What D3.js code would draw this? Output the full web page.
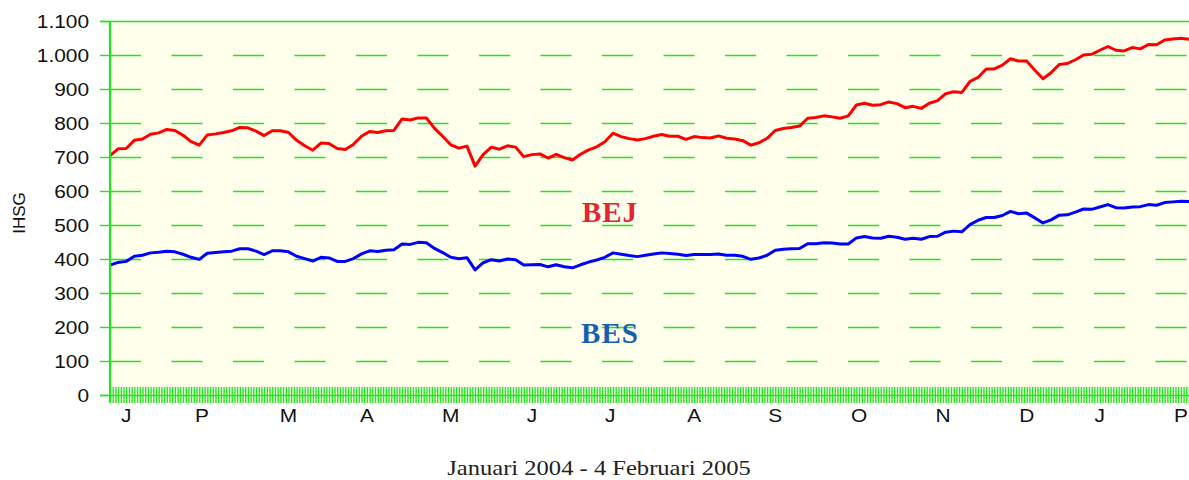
<!DOCTYPE html>
<html>
<head>
<meta charset="utf-8">
<script src="https://cdnjs.cloudflare.com/ajax/libs/d3/7.8.5/d3.min.js"></script>
<style>
  body { margin: 0; background: #fff; }
  svg text { font-family: "Liberation Sans", Arial, sans-serif; }
</style>
</head>
<body>
<div id="chart"></div>
<script>
// IHSG BEJ & BES, Januari 2004 - 4 Februari 2005, satu titik tiap 3 hari
var tglAwal = '2004-01-02';
var tglAkhir = '2005-02-04';
var langkahHari = 3;

var bej = [704, 724, 725, 749, 753, 767, 771, 781, 778, 764, 745, 735, 765, 768, 772, 777,
  787, 786, 776, 763, 777, 777, 772, 749, 733, 720, 741, 740, 725, 722, 737, 761,
  775, 772, 777, 778, 812, 809, 815, 815, 784, 761, 736, 726, 732, 673, 707, 729,
  723, 733, 729, 701, 707, 709, 697, 708, 698, 691, 708, 721, 730, 745, 770, 760,
  754, 750, 754, 761, 766, 761, 761, 752, 760, 757, 756, 762, 755, 753, 748, 735,
  742, 755, 778, 784, 787, 791, 814, 816, 821, 818, 814, 821, 853, 858, 852, 854,
  862, 857, 845, 849, 843, 858, 866, 886, 892, 890, 922, 934, 959, 959, 970, 989,
  982, 982, 955, 930, 948, 972, 975, 986, 1000, 1002, 1014, 1025, 1014, 1012, 1022, 1018,
  1031, 1030, 1044, 1047, 1049, 1046];

var bes = [382, 390, 393, 408, 411, 418, 420, 423, 421, 414, 405, 399, 417, 419, 421, 423,
  430, 430, 423, 413, 424, 424, 421, 408, 401, 394, 405, 403, 393, 393, 401, 415,
  424, 422, 426, 427, 444, 443, 449, 448, 431, 419, 405, 401, 404, 368, 389, 398,
  394, 400, 398, 382, 383, 384, 377, 383, 377, 374, 383, 391, 397, 405, 418, 414,
  410, 407, 411, 415, 418, 416, 414, 410, 413, 413, 413, 415, 411, 411, 408, 399,
  403, 411, 426, 429, 430, 431, 445, 445, 448, 447, 444, 444, 462, 466, 462, 461,
  467, 464, 458, 461, 458, 466, 467, 479, 482, 480, 501, 514, 522, 522, 528, 540,
  533, 535, 521, 506, 515, 529, 530, 538, 547, 546, 553, 560, 551, 550, 553, 554,
  560, 558, 566, 568, 570, 569];

var yTicks = [0, 100, 200, 300, 400, 500, 600, 700, 800, 900, 1000, 1100];

var bulanLabel = ['J', 'P', 'M', 'A', 'M', 'J', 'J', 'A', 'S', 'O', 'N', 'D', 'J', 'P'];
var bulanTanggal = ['2004-01-08', '2004-02-05', '2004-03-08', '2004-04-06', '2004-05-07',
  '2004-06-06', '2004-07-05', '2004-08-05', '2004-09-04', '2004-10-05', '2004-11-05',
  '2004-12-06', '2005-01-02', '2005-02-01'];

var judul = 'Januari 2004 - 4 Februari 2005';
var sumbuY = 'IHSG';

var chart = {};
chart.width = 1189;
chart.height = 480;
chart.left = 110;
chart.right = 1189;
chart.top = 21;
chart.bottom = 395;
chart.green = '#1fe61f';
chart.stretch = 1.16;   // the source text is drawn a bit wide

var parse = d3.timeParse('%Y-%m-%d');
var awal = parse(tglAwal), akhir = parse(tglAkhir);

var tanggal = bej.map(function(v, i) { return d3.timeDay.offset(awal, i * langkahHari); });

var x = d3.scaleTime().domain([awal, akhir]).range([chart.left, chart.right]);
var y = d3.scaleLinear().domain([0, 1100]).range([chart.bottom, chart.top]);

var fmt = d3.formatLocale({ decimal: ',', thousands: '.', grouping: [3], currency: ['Rp', ''] }).format(',');

var svg = d3.select('#chart').append('svg')
  .attr('width', chart.width)
  .attr('height', chart.height);

// plot background
svg.append('rect')
  .attr('x', chart.left)
  .attr('y', chart.top)
  .attr('width', chart.right - chart.left)
  .attr('height', chart.bottom + 8 - chart.top)
  .attr('fill', '#ffffec');

// dashed grid, one line per tick value
svg.append('g')
  .attr('class', 'grid')
  .selectAll('line')
  .data(yTicks.slice(1, -1))
  .enter()
  .append('line')
  .attr('x1', chart.left)
  .attr('x2', chart.right)
  .attr('y1', function(d) { return Math.round(y(d)) + 0.5; })
  .attr('y2', function(d) { return Math.round(y(d)) + 0.5; })
  .attr('stroke', chart.green)
  .attr('stroke-width', 1.3)
  .attr('stroke-dasharray', '31 30.5');

// day ticks along the bottom
var hari = svg.append('g')
  .attr('transform', 'translate(0,' + (chart.bottom - 8) + ')')
  .call(d3.axisBottom(x).ticks(d3.timeDay.every(1)).tickSize(16).tickSizeOuter(0).tickFormat(''));
hari.select('.domain').remove();
hari.selectAll('line')
  .attr('stroke', chart.green)
  .attr('stroke-width', 1.4);

// zero and top lines
[0, 1100].forEach(function(v) {
  svg.append('line')
    .attr('x1', chart.left - 10)
    .attr('x2', chart.right)
    .attr('y1', Math.round(y(v)) + 0.5)
    .attr('y2', Math.round(y(v)) + 0.5)
    .attr('stroke', chart.green)
    .attr('stroke-width', 1.4);
});

// series
var line = d3.line()
  .x(function(d, i) { return x(tanggal[i]); })
  .y(function(d) { return y(d); });

[[bej, '#ff0000'], [bes, '#0000ff']].forEach(function(s) {
  svg.append('path')
    .datum(s[0])
    .attr('d', line)
    .attr('fill', 'none')
    .attr('stroke', s[1])
    .attr('stroke-width', 3)
    .attr('stroke-linejoin', 'round');
});

// y axis with ticks and labels
var ay = svg.append('g')
  .attr('transform', 'translate(' + chart.left + ',0)')
  .call(d3.axisLeft(y).tickValues(yTicks).tickSize(10).tickPadding(0).tickFormat(fmt));
ay.select('.domain')
  .attr('d', 'M0,' + chart.top + 'V' + (chart.bottom + 8))
  .attr('stroke', chart.green)
  .attr('stroke-width', 2.2);
ay.selectAll('.tick line')
  .attr('stroke', chart.green)
  .attr('stroke-width', 1.4);
ay.selectAll('.tick text')
  .attr('x', -21 / chart.stretch)
  .attr('dy', '0.34em')
  .attr('transform', 'scale(' + chart.stretch + ',1)')
  .attr('font-size', '18px')
  .attr('font-family', '"Liberation Sans", Arial, sans-serif')
  .attr('fill', '#111');

// month letters
svg.selectAll('text.bulan')
  .data(bulanLabel)
  .enter()
  .append('text')
  .attr('class', 'bulan')
  .attr('transform', function(d, i) {
    return 'translate(' + x(parse(bulanTanggal[i])) + ',422) scale(' + chart.stretch + ',1)';
  })
  .attr('text-anchor', 'middle')
  .attr('font-size', '18px')
  .attr('fill', '#111')
  .text(function(d) { return d; });

// series names
svg.append('text')
  .attr('x', 610)
  .attr('y', 222)
  .attr('text-anchor', 'middle')
  .style('font-family', '"Liberation Serif", "Times New Roman", serif')
  .attr('font-weight', 'bold')
  .attr('font-size', '29px')
  .attr('letter-spacing', '1px')
  .attr('fill', '#e3262e')
  .text('BEJ');

svg.append('text')
  .attr('x', 610)
  .attr('y', 343)
  .attr('text-anchor', 'middle')
  .style('font-family', '"Liberation Serif", "Times New Roman", serif')
  .attr('font-weight', 'bold')
  .attr('font-size', '29px')
  .attr('letter-spacing', '1px')
  .attr('fill', '#1660b0')
  .text('BES');

// axis title and caption
svg.append('text')
  .attr('transform', 'translate(25,213) rotate(-90)')
  .attr('text-anchor', 'middle')
  .attr('font-size', '17px')
  .attr('fill', '#111')
  .text(sumbuY);

svg.append('text')
  .attr('transform', 'translate(599,475) scale(1.17,1)')
  .attr('text-anchor', 'middle')
  .style('font-family', '"Liberation Serif", "Times New Roman", serif')
  .attr('font-size', '21px')
  .attr('fill', '#222')
  .text(judul);
</script>
</body>
</html>
